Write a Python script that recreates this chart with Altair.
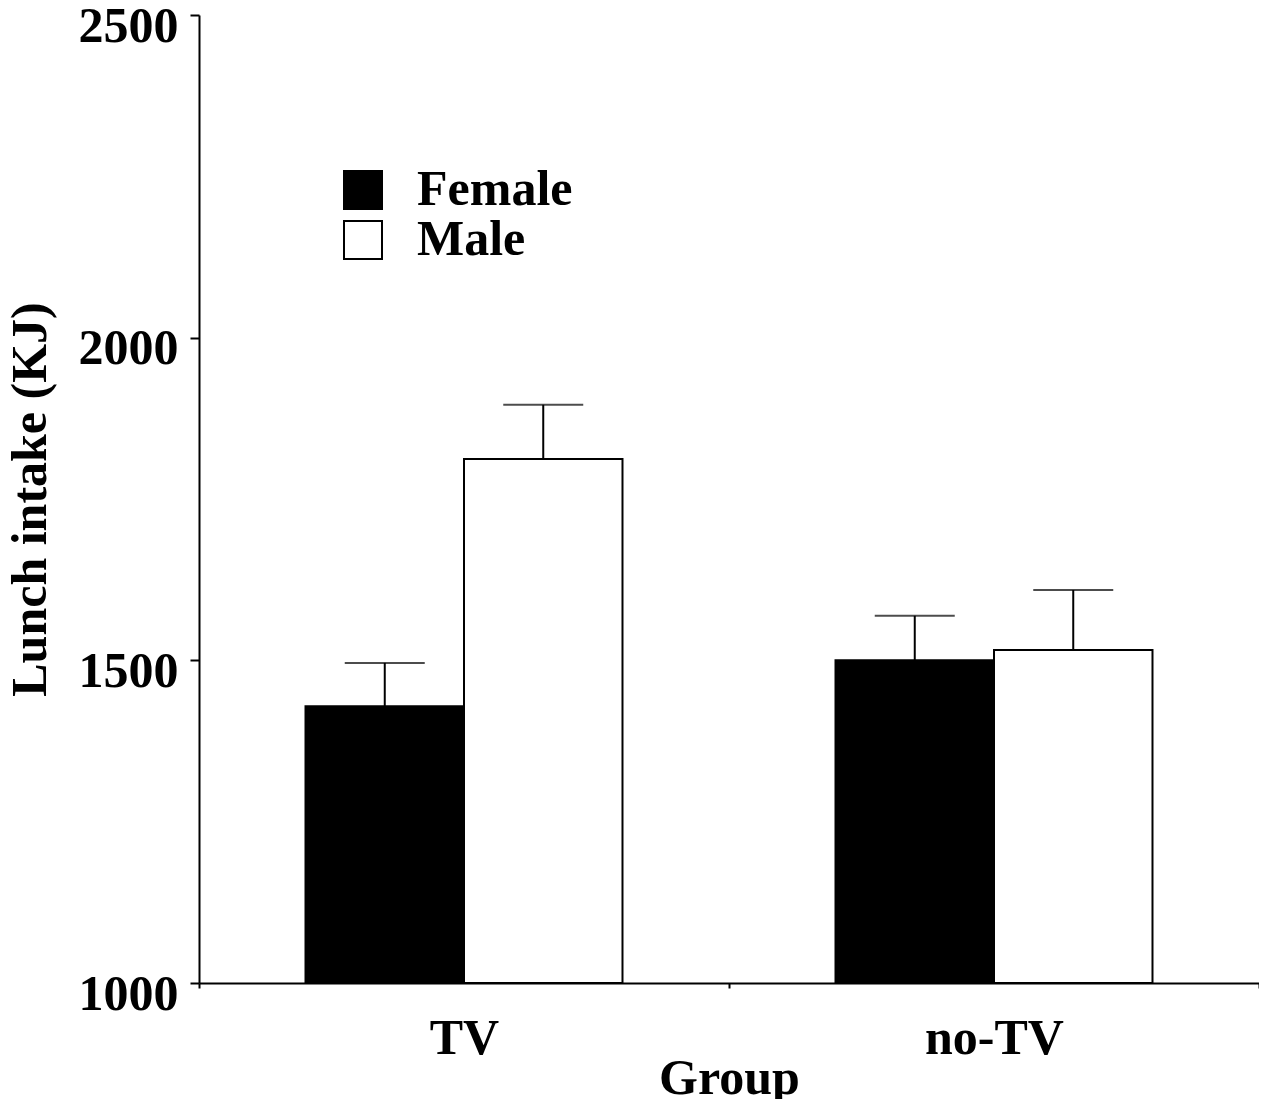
import altair as alt
import pandas as pd

groups = ["TV", "TV", "no-TV", "no-TV"]
sexes = ["Female", "Male", "Female", "Male"]
means = [1429, 1812, 1500, 1516]
sems = [67, 84, 69, 93]

y_ticks = [1000, 1500, 2000, 2500]
group_order = ["TV", "no-TV"]
sex_order = ["Female", "Male"]
sex_fill = ["#000000", "#ffffff"]

df = pd.DataFrame({"Group": groups, "Sex": sexes, "Mean": means, "SEM": sems})
df["Upper"] = df["Mean"] + df["SEM"]
df["Base"] = y_ticks[0]

FONT = "Liberation Serif"
FS = 50

x_axis = alt.Axis(
    title="Group", labelAngle=0, tickBand="extent", tickSize=5, tickWidth=2,
    tickColor="black", domainWidth=2, domainColor="black", labelPadding=25,
    labelFontSize=FS, labelFont=FONT, labelFontWeight="bold", labelColor="black",
    titleFont=FONT, titleFontSize=FS, titleFontWeight="bold", titleColor="black",
    titleY=110, titleBaseline="alphabetic", labelLimit=400, grid=False,
)
x = alt.X("Group:N", sort=group_order,
          scale=alt.Scale(domain=group_order, paddingInner=0, paddingOuter=0),
          axis=x_axis)
xo = alt.XOffset("Sex:N", sort=sex_order,
                 scale=alt.Scale(domain=sex_order, paddingInner=0, paddingOuter=0.672))

y_scale = alt.Scale(domain=[y_ticks[0], y_ticks[-1]], zero=False, nice=False)
y_axis = alt.Axis(
    values=y_ticks, format="d", title="Lunch intake (KJ)", tickSize=9, tickWidth=2,
    tickColor="black", domainWidth=2, domainColor="black", labelPadding=12,
    labelOffset=11, labelFlush=False, labelOverlap=False, labelFontSize=FS,
    labelFont=FONT, labelFontWeight="bold", labelColor="black",
    titleFont=FONT, titleFontSize=FS, titleFontWeight="bold", titleColor="black",
    titleAngle=270, titleBaseline="alphabetic", titleX=-154, titleY=484,
    grid=False,
)


def yenc(field):
    return alt.Y(field, scale=y_scale, axis=y_axis)


bars = alt.Chart(df).mark_bar(stroke="black", strokeWidth=2).encode(
    x=x,
    xOffset=xo,
    y=yenc("Mean:Q"),
    y2=alt.Y2("Base:Q"),
    fill=alt.Fill(
        "Sex:N", sort=sex_order,
        scale=alt.Scale(domain=sex_order, range=sex_fill),
        legend=alt.Legend(
            title=None, orient="none", legendX=139, legendY=150,
            symbolType="square", symbolSize=1444, symbolStrokeColor="black",
            symbolStrokeWidth=2, symbolOpacity=1, labelFont=FONT,
            labelFontSize=FS, labelFontWeight="bold", labelColor="black",
            labelOffset=29, rowPadding=-4, padding=0,
        ),
    ),
)

stems = alt.Chart(df).mark_rule(color="black", strokeWidth=2).encode(
    x=x, xOffset=xo, y=yenc("Mean:Q"), y2=alt.Y2("Upper:Q"),
)

caps = alt.Chart(df).mark_tick(color="black", size=80, thickness=2).encode(
    x=x, xOffset=xo, y=yenc("Upper:Q"),
)

chart = alt.layer(bars, stems, caps).properties(
    width=1060, height=968,
    padding={"left": 191, "top": 7, "right": 0, "bottom": 116},
    autosize=alt.AutoSizeParams(type="none"),
    background="white",
).configure_view(stroke=None)

chart.save("out.html", embed_options={"renderer": "svg", "actions": False})
